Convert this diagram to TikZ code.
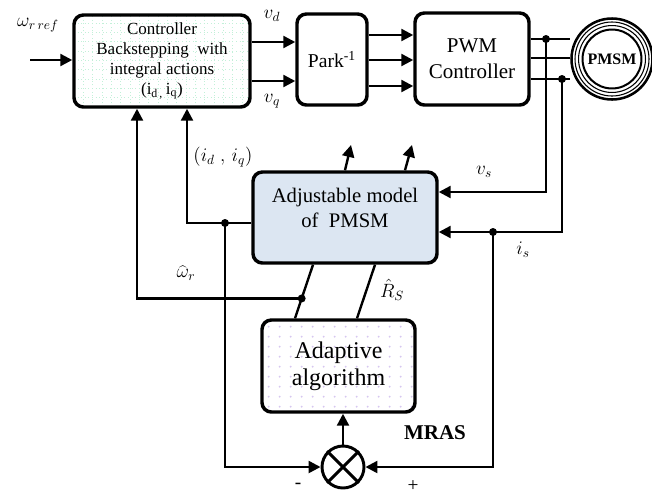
\documentclass[tikz,border=0pt]{standalone}
\usepackage{fontspec}
\setmainfont{Liberation Serif}
\usetikzlibrary{arrows.meta,calc}
\definecolor{mint}{HTML}{C2F0D8}
\definecolor{lilac}{HTML}{D6C6F0}
\definecolor{adjblue}{HTML}{DCE6F2}

\tikzset{
    blk/.style={draw, line width=2.6pt, rounded corners=7pt, inner sep=0pt},
    wire/.style={line width=1.8pt},
    arr/.style={line width=1.8pt, -{Triangle[length=9pt,width=9pt]}},
    lbl/.style={font=\fontsize{14.5}{16}\selectfont},
    gridfill/.style={fill=white, path picture={
        \foreach \k in {0,...,20} {
            \draw[mint, dotted, line width=0.7pt] ([xshift=\k*7pt]path picture bounding box.south west) -- ([xshift=\k*7pt]path picture bounding box.north west);
            \draw[mint, dotted, line width=0.7pt] ([yshift=\k*7pt]path picture bounding box.south west) -- ([yshift=\k*7pt]path picture bounding box.south east);
        }}},
    dotfill/.style={fill=white, path picture={
        \foreach \i in {0,...,14} \foreach \j in {0,...,9}
            \fill[lilac] ([shift={(\i*8.25pt+5pt,\j*7.5pt+4pt)}]path picture bounding box.south west) circle (0.8pt);
        }},
}

\begin{document}
\begin{tikzpicture}[x=0.75pt, y=-0.75pt]
    \useasboundingbox (0,0) rectangle (652,494);

    \node[blk, gridfill, minimum width=132pt, minimum height=69pt, align=center, font=\fontsize{12.75}{15}\selectfont] (ctrl) at (162,61) {Controller\\Backstepping\ \ with\\integral actions\\(i\textsubscript{d\,,}\,i\textsubscript{q})};
    \node[blk, minimum width=52.5pt, minimum height=68.25pt, font=\fontsize{14.7}{17}\selectfont] (park) at (332,59.5) {Park\textsuperscript{-1}};
    \node[blk, minimum width=85.5pt, minimum height=69pt, align=center, font=\fontsize{15.75}{19.5}\selectfont] (pwm) at (472,59) {PWM\\Controller};
    \node[circle, draw, line width=1.9pt, minimum size=60.75pt, inner sep=0pt, font=\bfseries\fontsize{12}{14}\selectfont] (motor) at (612,59) {PMSM};
    \draw[line width=0.8pt] (motor.center) circle (27.75pt);
    \draw[line width=0.8pt] (motor.center) circle (25.1pt);
    \draw[line width=1.5pt] (motor.center) circle (22.1pt);

    \node[blk, fill=adjblue, minimum width=138pt, minimum height=68.25pt] (adj) at (345,217.5) {};
    \node[align=center, font=\fontsize{15.5}{18.75}\selectfont] (adjtxt) at (345,207.5) {Adjustable model\\of\ \ PMSM};
    \node[blk, dotfill, minimum width=114.75pt, minimum height=69pt, align=center, font=\fontsize{18}{20}\selectfont] (adapt) at (338.5,366) {Adaptive\\algorithm};
    \node[circle, draw, line width=2.2pt, minimum size=31.5pt, inner sep=0pt] (sum) at (343,467) {};
    \draw[line width=2.2pt] (sum.north west) -- (sum.south east) (sum.north east) -- (sum.south west);

    \coordinate (wref) at (30,60);
    \draw[arr] (wref) -- (ctrl.west |- wref);
    \draw[arr] (ctrl.east |- 0,42) -- (park.west |- 0,42);
    \draw[arr] (ctrl.east |- 0,81) -- (park.west |- 0,81);
    \foreach \yy in {35,60,86} \draw[arr] (park.east |- 0,\yy) -- (pwm.west |- 0,\yy);
    \foreach \yy in {39,58,79} \draw[wire] (pwm.east |- 0,\yy) -- (motor.west |- 0,\yy);

    \coordinate (tv) at (546,39);
    \coordinate (ti) at (562,79);
    \coordinate (tis) at (493,232);
    \coordinate (tid) at (225,223);
    \draw[arr] (tv) |- (adj.east |- 0,192);
    \draw[arr] (ti) |- (adj.east |- 0,232);
    \draw[arr] (tis) |- (sum.east);
    \draw[arr] (adj.west |- 0,223) -| (ctrl.south -| 187,0);
    \draw[arr] (tid) |- (sum.west);

    \draw[wire] (adj.south -| 313,0) -- (adapt.north -| 295,0) coordinate[pos=0.63] (tw);
    \draw[wire] (adj.south -| 375,0) -- (adapt.north -| 357,0);
    \draw[arr] (tw) -| (ctrl.south -| 137,0);

    \coordinate (out1) at (351,145);
    \coordinate (out2) at (412,145);
    \draw[arr] (adj.north -| 345,0) -- (out1);
    \draw[arr] (adj.north -| 405,0) -- (out2);
    \draw[arr] (sum.north) -- (adapt.south -| sum.north);

    \foreach \p in {tv,ti,tis,tid,tw} \fill (\p) circle (3pt);

    \node[lbl] (lwref) at (38,25) {$\omega_{r\,ref}$};
    \node[lbl] (lvd) at (272,16) {$v_d$};
    \node[lbl] (lvq) at (272,101) {$v_q$};
    \node[lbl] (lidq) at (223,157) {$(i_d\;,\,i_q)$};
    \node[lbl] (lvs) at (484,172) {$v_s$};
    \node[lbl] (lis) at (523,250) {$i_s$};
    \node[lbl] (lwr) at (186,273) {$\widehat{\omega}_r$};
    \node[lbl] (lrs) at (392,290) {$\hat{R}_S$};
    \node[lbl] (lminus) at (298,486) {-};
    \node[lbl] (lplus) at (413,486) {+};
    \node[font=\bfseries\fontsize{15.75}{18}\selectfont] (lmras) at (435,433) {MRAS};
\end{tikzpicture}
\end{document}
